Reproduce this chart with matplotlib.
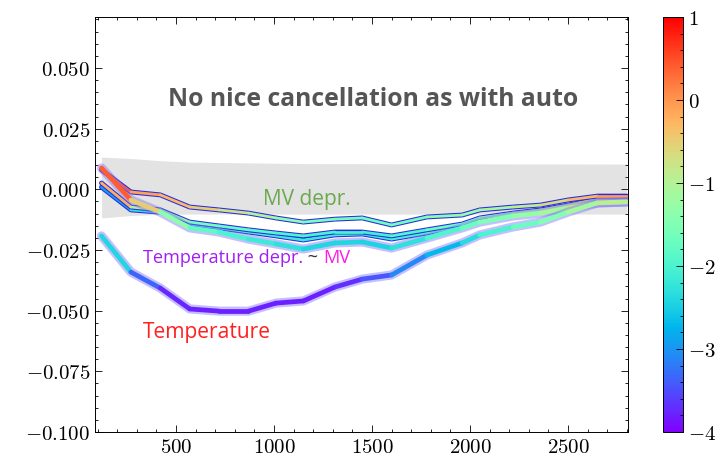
import numpy as np
import matplotlib
matplotlib.use("Agg")
import matplotlib.pyplot as plt
from matplotlib.collections import LineCollection
from matplotlib.colors import Normalize
from matplotlib.ticker import FuncFormatter, MultipleLocator
import matplotlib.cm as cm

plt.rcParams['mathtext.fontset'] = 'cm'

# ---- data ----
x = [120, 270, 420, 570, 720, 870, 1010, 1150, 1310, 1450, 1600,
     1780, 1960, 2050, 2220, 2360, 2500, 2650, 2800]

mv_a = [0.0080, -0.0011, -0.0023, -0.0073, -0.0085, -0.0098, -0.0118, -0.0135, -0.0123, -0.0118,
        -0.0147, -0.0114, -0.0106, -0.0085, -0.0073, -0.0065, -0.0044, -0.0028, -0.0028]
mv_a_c = [0.8, 0.0, -0.2, -0.4, -0.6, -0.9, -1.2, -1.5, -1.6, -1.6,
          -1.7, -1.5, -1.3, -1.2, -1.0, -0.8, -0.5, -0.1, 0.0]

mv_b = [0.0026, -0.0073, -0.0085, -0.0135, -0.0151, -0.0167, -0.0180, -0.0192, -0.0176, -0.0176,
        -0.0192, -0.0167, -0.0143, -0.0118, -0.0098, -0.0085, -0.0065, -0.0040, -0.0040]
mv_b_c = [0.2, -0.6, -1.2, -1.5, -1.7, -1.8, -1.9, -2.0, -2.0, -2.0,
          -2.1, -1.8, -1.6, -1.4, -1.2, -1.0, -0.8, -0.6, -0.6]

mv_c = [0.0009, -0.0085, -0.0094, -0.0143, -0.0159, -0.0176, -0.0192, -0.0209, -0.0188, -0.0184,
        -0.0205, -0.0180, -0.0151, -0.0130, -0.0106, -0.0094, -0.0073, -0.0048, -0.0048]
mv_c_c = [-3.2, -2.6, -2.0, -1.9, -1.9, -2.0, -2.1, -2.2, -2.1, -2.1,
          -2.2, -1.9, -1.7, -1.5, -1.3, -1.1, -0.9, -0.8, -0.8]

tdep = [0.0088, -0.0044, -0.0094, -0.0159, -0.0176, -0.0205, -0.0225, -0.0246, -0.0221, -0.0217,
        -0.0242, -0.0201, -0.0159, -0.0135, -0.0110, -0.0098, -0.0077, -0.0056, -0.0052]
tdep_c = [0.8, 0.0, -1.0, -1.7, -1.9, -2.1, -2.2, -2.4, -2.4, -2.4,
          -2.5, -2.1, -1.8, -1.6, -1.4, -1.2, -1.0, -0.8, -0.7]

temp = [-0.0192, -0.0341, -0.0407, -0.0493, -0.0502, -0.0502, -0.0469, -0.0460, -0.0403, -0.0370,
        -0.0353, -0.0271, -0.0221, -0.0188, -0.0155, -0.0135, -0.0094, -0.0056, -0.0052]
temp_c = [-1.8, -3.0, -3.7, -3.8, -3.8, -3.8, -3.8, -3.8, -3.8, -3.6,
          -3.3, -2.9, -2.5, -2.2, -1.8, -1.6, -1.3, -1.0, -0.9]

band_x = [120, 270, 420, 570, 1150, 2800]
band_hi = [0.0133, 0.0127, 0.0118, 0.0112, 0.0106, 0.0104]
band_lo = [-0.0118, -0.0108, -0.0103, -0.0102, -0.0102, -0.0102]

cbar_ticks = [1, 0, -1, -2, -3, -4]

# ---- figure ----
fig = plt.figure(figsize=(7.22, 4.59), dpi=100)
ax = fig.add_axes([95/722, 27/459, 533/722, 415/459])
cax = fig.add_axes([663/722, 27/459, 20/722, 415/459])

norm = Normalize(-4, 1)
cmap = plt.get_cmap('rainbow')

ax.fill_between(band_x, band_lo, band_hi, color='#e3e3e3', lw=0, zorder=1)


def seg_line(xs, ys, cs, lw_in, lw_out, out_color, z):
    ax.plot(xs, ys, color=out_color, lw=lw_out, solid_joinstyle='round',
            solid_capstyle='round', zorder=z)
    pts = np.column_stack([xs, ys])
    segs = np.stack([pts[:-1], pts[1:]], axis=1)
    cvals = 0.5 * (np.asarray(cs[:-1]) + np.asarray(cs[1:]))
    inner = LineCollection(segs, cmap=cmap, norm=norm, linewidths=lw_in,
                           capstyle='round', joinstyle='round', zorder=z + 0.1)
    inner.set_array(cvals)
    ax.add_collection(inner)


thin_out = '#2a2ae6'
halo = (0.5, 0.45, 1.0, 0.45)
seg_line(x, mv_c, mv_c_c, 2.0, 3.5, thin_out, 3)
seg_line(x, mv_b, mv_b_c, 2.0, 3.5, thin_out, 3.2)
seg_line(x, mv_a, mv_a_c, 2.0, 3.5, thin_out, 3.4)
seg_line(x, tdep, tdep_c, 3.4, 6.6, halo, 4)
seg_line(x, temp, temp_c, 3.4, 6.6, halo, 4.2)

ax.set_xlim(87, 2806)
ax.set_ylim(-0.1, 0.071)

ax.yaxis.set_major_locator(MultipleLocator(0.025))
ax.yaxis.set_minor_locator(MultipleLocator(0.005))
ax.yaxis.set_major_formatter(FuncFormatter(lambda v, p: r'$%.3f$' % (0.0 if abs(v) < 1e-9 else v)))
ax.xaxis.set_major_locator(MultipleLocator(500))
ax.xaxis.set_minor_locator(MultipleLocator(100))
ax.xaxis.set_major_formatter(FuncFormatter(lambda v, p: r'$%d$' % v))
ax.tick_params(which='both', direction='in', top=True, right=True, labelsize=15, width=0.6)
ax.tick_params(which='major', length=5)
ax.tick_params(which='minor', length=2.5)
for s in ax.spines.values():
    s.set_linewidth(0.7)

tfont = ['Open Sans', 'DejaVu Sans']
ax.text(1505, 0.0368, 'No nice cancellation as with auto', ha='center', va='center',
        fontsize=17.8, fontweight='bold', color='#555555', family=tfont)
ax.text(944, -0.0040, 'MV depr.', ha='left', va='center', fontsize=15,
        color='#6aaa4f', family=tfont)
t1 = ax.text(332, -0.0283, 'Temperature depr.', ha='left', va='center', fontsize=13.1,
             color='#a21ef2', family=tfont)
fig.canvas.draw()
t2 = ax.annotate(' ~ ', xy=(1, 0.5), xycoords=t1, ha='left', va='center', fontsize=13.1,
                 color='#333333', family=tfont)
fig.canvas.draw()
ax.annotate('MV', xy=(1, 0.5), xycoords=t2, ha='left', va='center', fontsize=13.1,
            color='#ff1ae8', family=tfont)
ax.text(332, -0.0588, 'Temperature', ha='left', va='center', fontsize=15.1,
        color='#ff2020', family=tfont)

sm = cm.ScalarMappable(norm=norm, cmap=cmap)
cb = fig.colorbar(sm, cax=cax)
cb.set_ticks(cbar_ticks)
cb.ax.yaxis.set_major_formatter(FuncFormatter(lambda v, p: r'$%d$' % v))
cb.ax.yaxis.set_minor_locator(MultipleLocator(0.2))
cb.ax.tick_params(which='both', direction='in', labelsize=15, width=0.6)
cb.ax.tick_params(which='major', length=5)
cb.ax.tick_params(which='minor', length=2.5)
cb.outline.set_linewidth(0.7)

fig.savefig('out.png', dpi=100)
